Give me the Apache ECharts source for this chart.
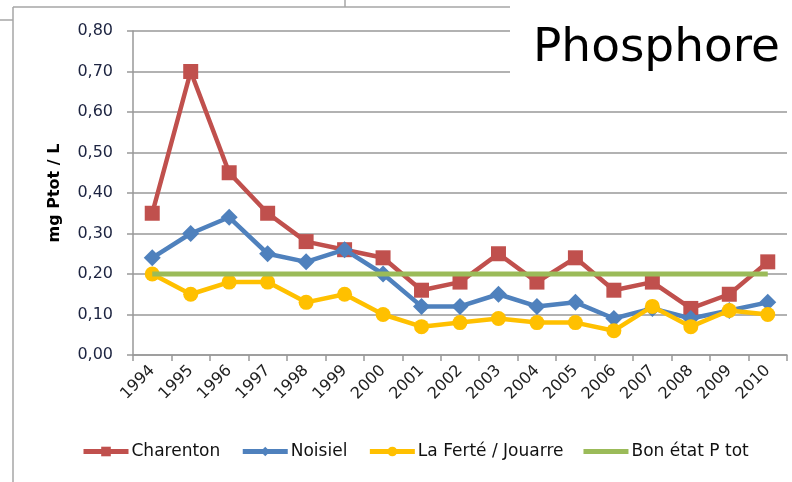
<!DOCTYPE html>
<html>
<head>
<meta charset="utf-8">
<script src="https://cdn.jsdelivr.net/npm/echarts@6/dist/echarts.min.js"></script>
<style>
  html, body { margin: 0; padding: 0; background: #fff; }
  #chart { width: 792px; height: 482px; }
</style>
</head>
<body>
<div id="chart"></div>
<script>
// années
const years = ["1994", "1995", "1996", "1997", "1998", "1999", "2000", "2001", "2002",
  "2003", "2004", "2005", "2006", "2007", "2008", "2009", "2010"];

// valeurs mg Ptot / L
const charenton = [0.35, 0.70, 0.45, 0.35, 0.28, 0.26, 0.24, 0.16, 0.18, 0.25, 0.18, 0.24, 0.16, 0.18, 0.115, 0.15, 0.23];
const noisiel = [0.24, 0.30, 0.34, 0.25, 0.23, 0.26, 0.20, 0.12, 0.12, 0.15, 0.12, 0.13, 0.09, 0.115, 0.09, 0.11, 0.13];
const laFerte = [0.20, 0.15, 0.18, 0.18, 0.13, 0.15, 0.10, 0.07, 0.08, 0.09, 0.08, 0.08, 0.06, 0.12, 0.07, 0.11, 0.10];
const bonEtat = [0.20, 0.20, 0.20, 0.20, 0.20, 0.20, 0.20, 0.20, 0.20, 0.20, 0.20, 0.20, 0.20, 0.20, 0.20, 0.20, 0.20];

const chartDom = document.getElementById("chart");
const myChart = echarts.init(chartDom);

const font = "DejaVu Sans";
const gris = "#999999";

const option = {
  animation: false,
  textStyle: { fontFamily: font },
  title: {
    text: "Phosphore",
    left: 510,
    top: 0,
    padding: [25, 13, 20, 23],
    backgroundColor: "#fff",
    z: 10,
    textStyle: { fontSize: 47, fontWeight: "normal", color: "#000", fontFamily: font },
  },
  // cadre de la capture
  graphic: [
    { type: "line", shape: { x1: 13, y1: 7, x2: 792, y2: 7 }, style: { stroke: "#a6a6a6", lineWidth: 1.5 }, z: 0 },
    { type: "line", shape: { x1: 13, y1: 7, x2: 13, y2: 482 }, style: { stroke: "#a6a6a6", lineWidth: 1.5 }, z: 0 },
    { type: "line", shape: { x1: 0, y1: 20, x2: 13, y2: 20 }, style: { stroke: "#a6a6a6", lineWidth: 1.5 }, z: 0 },
    { type: "line", shape: { x1: 345, y1: 0, x2: 345, y2: 7 }, style: { stroke: "#a6a6a6", lineWidth: 1.5 }, z: 0 },
  ],
  grid: { left: 133, right: 5, top: 31, bottom: 127 },
  legend: {
    bottom: 17,
    left: 76,
    itemWidth: 45,
    itemHeight: 12,
    itemGap: 20,
    lineStyle: { width: 5 },
    textStyle: { fontSize: 17, color: "#111", fontFamily: font, padding: [0, 0, 0, -2] },
    data: [
      "Charenton",
      "Noisiel",
      "La Ferté / Jouarre",
      { name: "Bon état P tot", icon: "path://M0,0H45V5H0Z" },
    ],
  },
  xAxis: {
    type: "category",
    data: years,
    boundaryGap: true,
    axisLine: { lineStyle: { color: gris, width: 1.5 } },
    axisTick: { show: true, length: 6, alignWithLabel: false, lineStyle: { color: gris, width: 1.5 } },
    axisLabel: { rotate: 45, interval: 0, fontSize: 16, color: "#222", margin: 13, fontFamily: font },
  },
  yAxis: {
    type: "value",
    min: 0,
    max: 0.8,
    interval: 0.1,
    name: "mg Ptot / L",
    nameLocation: "middle",
    nameGap: 70,
    nameTextStyle: { fontSize: 16, fontWeight: "bold", color: "#000", fontFamily: font },
    axisLine: { show: true, lineStyle: { color: gris, width: 1.5 } },
    axisTick: { show: true, length: 6, lineStyle: { color: gris, width: 1.5 } },
    axisLabel: {
      fontSize: 16,
      color: "#1c2340",
      margin: 20,
      fontFamily: font,
      formatter: (v) => v.toFixed(2).replace(".", ","),
    },
    splitLine: { lineStyle: { color: gris, width: 1.5 } },
  },
  series: [
    {
      name: "Charenton",
      type: "line",
      data: charenton,
      color: "#c0504d",
      symbol: "rect",
      symbolSize: 15,
      lineStyle: { width: 4.5 },
      z: 3,
    },
    {
      name: "Noisiel",
      type: "line",
      data: noisiel,
      color: "#4f81bd",
      symbol: "diamond",
      symbolSize: 17,
      lineStyle: { width: 4.5 },
      z: 4,
    },
    {
      name: "La Ferté / Jouarre",
      type: "line",
      data: laFerte,
      color: "#ffc000",
      symbol: "circle",
      symbolSize: 15,
      lineStyle: { width: 4.5 },
      z: 5,
    },
    {
      name: "Bon état P tot",
      type: "line",
      data: bonEtat,
      color: "#9bbb59",
      symbol: "none",
      lineStyle: { width: 5 },
      z: 6,
    },
  ],
};

option && myChart.setOption(option);
</script>
</body>
</html>
